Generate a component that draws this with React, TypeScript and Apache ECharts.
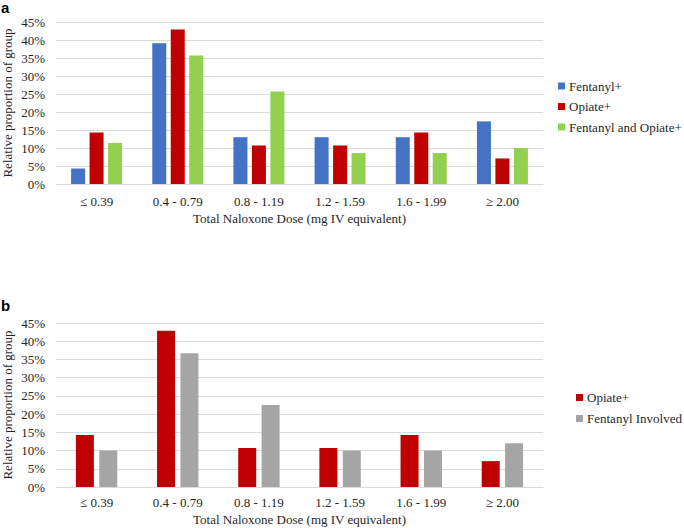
import React, { useEffect, useRef } from "react";
import * as echarts from "echarts";

const categories = ["≤ 0.39", "0.4 - 0.79", "0.8 - 1.19", "1.2 - 1.59", "1.6 - 1.99", "≥ 2.00"];
const yTicks = { min: 0, max: 45, interval: 5 };

// Panel a
const fentanylA = [4.3, 39.1, 13.0, 13.0, 13.0, 17.4];
const opiateA = [14.3, 42.9, 10.7, 10.7, 14.3, 7.1];
const fentOpiateA = [11.4, 35.7, 25.7, 8.6, 8.6, 10.0];

// Panel b
const opiateB = [14.3, 42.9, 10.7, 10.7, 14.3, 7.1];
const fentInvolvedB = [10.0, 36.7, 22.5, 10.0, 10.0, 12.0];

const FONT = "'Liberation Serif', 'Times New Roman', serif";
const TXT = "#262626";
const GRID = "#d9d9d9";

function xAxis(gridIndex: number, nameGap: number, margin: number) {
  return {
    type: "category",
    gridIndex,
    data: categories,
    axisTick: { show: false },
    axisLine: { show: true, lineStyle: { color: GRID, width: 1 } },
    axisLabel: { color: TXT, fontFamily: FONT, fontSize: 13, margin },
    name: "Total Naloxone Dose (mg IV equivalent)",
    nameLocation: "middle",
    nameGap,
    nameMoveOverlap: false,
    nameTextStyle: { color: TXT, fontFamily: FONT, fontSize: 13 },
  };
}

function yAxis(gridIndex: number) {
  return {
    type: "value",
    gridIndex,
    min: yTicks.min,
    max: yTicks.max,
    interval: yTicks.interval,
    axisLine: { show: false },
    axisTick: { show: false },
    splitLine: { lineStyle: { color: GRID, width: 1 } },
    axisLabel: { color: TXT, fontFamily: FONT, fontSize: 13, margin: 11, formatter: "{value}%" },
    name: "Relative proportion of group",
    nameLocation: "middle",
    nameGap: 42,
    nameMoveOverlap: false,
    nameTextStyle: { color: TXT, fontFamily: FONT, fontSize: 13 },
  };
}

export default function App() {
  const ref = useRef<HTMLDivElement>(null);
  useEffect(() => {
    if (!ref.current) return;
    const chart = echarts.init(ref.current, null, { renderer: "svg" });
    const barA = { type: "bar", xAxisIndex: 0, yAxisIndex: 0, barWidth: 14, barGap: "32%" };
    const barB = { type: "bar", xAxisIndex: 1, yAxisIndex: 1, barWidth: 18, barGap: "30%" };
    chart.setOption({
      animation: false,
      backgroundColor: "#ffffff",
      textStyle: { fontFamily: FONT },
      grid: [
        { left: 56, right: 141, top: 22, height: 162, outerBoundsMode: "none", containLabel: false },
        { left: 56, right: 141, top: 323, height: 164, outerBoundsMode: "none", containLabel: false },
      ],
      xAxis: [xAxis(0, 28, 11), xAxis(1, 26, 9)],
      yAxis: [yAxis(0), yAxis(1)],
      legend: [
        {
          orient: "vertical",
          left: 553,
          top: 74.5,
          itemWidth: 7,
          itemHeight: 7,
          itemGap: 7.5,
          icon: "rect",
          textStyle: { color: TXT, fontFamily: FONT, fontSize: 13, padding: [0, 0, 0, -1] },
          data: ["Fentanyl+", "Opiate+", "Fentanyl and Opiate+"],
        },
        {
          orient: "vertical",
          left: 571,
          top: 386,
          itemWidth: 7,
          itemHeight: 7,
          itemGap: 8,
          icon: "rect",
          textStyle: { color: TXT, fontFamily: FONT, fontSize: 13, padding: [0, 0, 0, -1] },
          data: ["Opiate+", "Fentanyl Involved"],
        },
      ],
      graphic: [
        { type: "text", left: 1, top: 0, style: { text: "a", font: "bold 15px 'Liberation Sans', Arial, sans-serif", fill: "#000" } },
        { type: "text", left: 1, top: 298, style: { text: "b", font: "bold 15px 'Liberation Sans', Arial, sans-serif", fill: "#000" } },
      ],
      series: [
        { ...barA, name: "Fentanyl+", data: fentanylA, itemStyle: { color: "#4472C4" } },
        { ...barA, name: "Opiate+", data: opiateA, itemStyle: { color: "#C00000" } },
        { ...barA, name: "Fentanyl and Opiate+", data: fentOpiateA, itemStyle: { color: "#92D050" } },
        { ...barB, name: "Opiate+", data: opiateB, itemStyle: { color: "#C00000" } },
        { ...barB, name: "Fentanyl Involved", data: fentInvolvedB, itemStyle: { color: "#A5A5A5" } },
      ],
    });
    return () => chart.dispose();
  }, []);
  return <div ref={ref} style={{ position: "fixed", left: 0, top: 0, width: 684, height: 528 }} />;
}
